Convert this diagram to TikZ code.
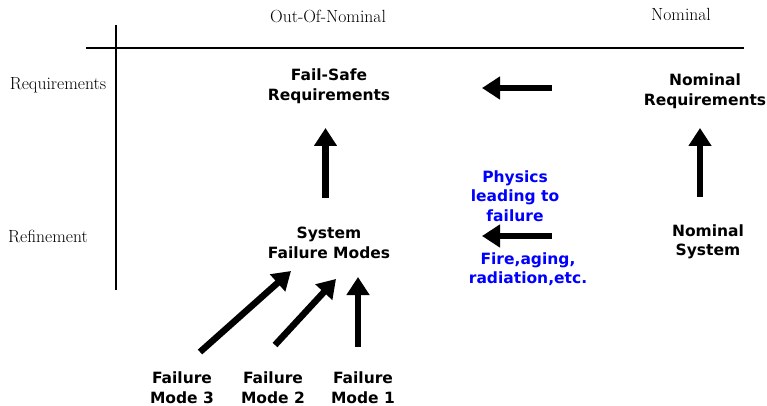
\documentclass[tikz,border=0pt]{standalone}
\usepackage{fontspec}
\newfontfamily\djv{DejaVu Sans}
\usetikzlibrary{arrows.meta}
\begin{document}
\begin{tikzpicture}[x=1pt,y=-1pt,
  hdr/.style={font=\fontsize{17.6}{20}\selectfont, inner sep=0pt},
  lbl/.style={font=\djv\bfseries\fontsize{15.5}{19.5}\selectfont, align=center, inner sep=0pt},
  blbl/.style={lbl, text=blue},
  bigarrow/.style={line width=6.5pt, -{Triangle[length=18pt,width=22pt]}},
  axis/.style={line width=1.3pt}
]
\useasboundingbox (0,0) rectangle (767,406);
% headers
\node[hdr] (oon) at (328,16) {Out-Of-Nominal};
\node[hdr] (nom) at (681,14) {Nominal};
\node[hdr] (req) at (58,85) {Requirements};
\node[hdr] (ref) at (48,236) {Refinement};
% axes
\coordinate (hl) at (86,48);
\coordinate (hr) at (744,48);
\coordinate (vt) at (116,25);
\coordinate (vb) at (116,290);
\draw[axis] (hl) -- (hr);
\draw[axis] (vt) -- (vb);
% main nodes
\node[lbl] (fsr) at (329,86) {Fail-Safe\\Requirements};
\node[lbl] (nr) at (705,91) {Nominal\\Requirements};
\node[lbl] (sfm) at (329,243) {System\\Failure Modes};
\node[lbl] (ns) at (708,242) {Nominal\\System};
\node[blbl] (phys) at (515,196) {Physics\\leading to\\failure};
\node[blbl] (fire) at (528,269) {Fire,aging,\\radiation,etc.};
\node[lbl] (fm3) at (182,387.5) {Failure\\Mode 3};
\node[lbl] (fm2) at (273,387.5) {Failure\\Mode 2};
\node[lbl] (fm1) at (363,387.5) {Failure\\Mode 1};
% arrow endpoints
\coordinate (a1s) at (552,88);  \coordinate (a1e) at (482,88);
\coordinate (a2s) at (552,236); \coordinate (a2e) at (482,236);
\coordinate (a3s) at (325.5,198); \coordinate (a3e) at (325.5,128);
\coordinate (a4s) at (700,197); \coordinate (a4e) at (700,128);
\coordinate (a5s) at (200,352); \coordinate (a5e) at (291,271);
\coordinate (a6s) at (275,345); \coordinate (a6e) at (336,279);
\coordinate (a7s) at (358,347); \coordinate (a7e) at (358,277);
\draw[bigarrow] (a1s) -- (a1e);
\draw[bigarrow] (a2s) -- (a2e);
\draw[bigarrow] (a3s) -- (a3e);
\draw[bigarrow] (a4s) -- (a4e);
\draw[bigarrow] (a5s) -- (a5e);
\draw[bigarrow] (a6s) -- (a6e);
\draw[bigarrow] (a7s) -- (a7e);
\end{tikzpicture}
\end{document}
